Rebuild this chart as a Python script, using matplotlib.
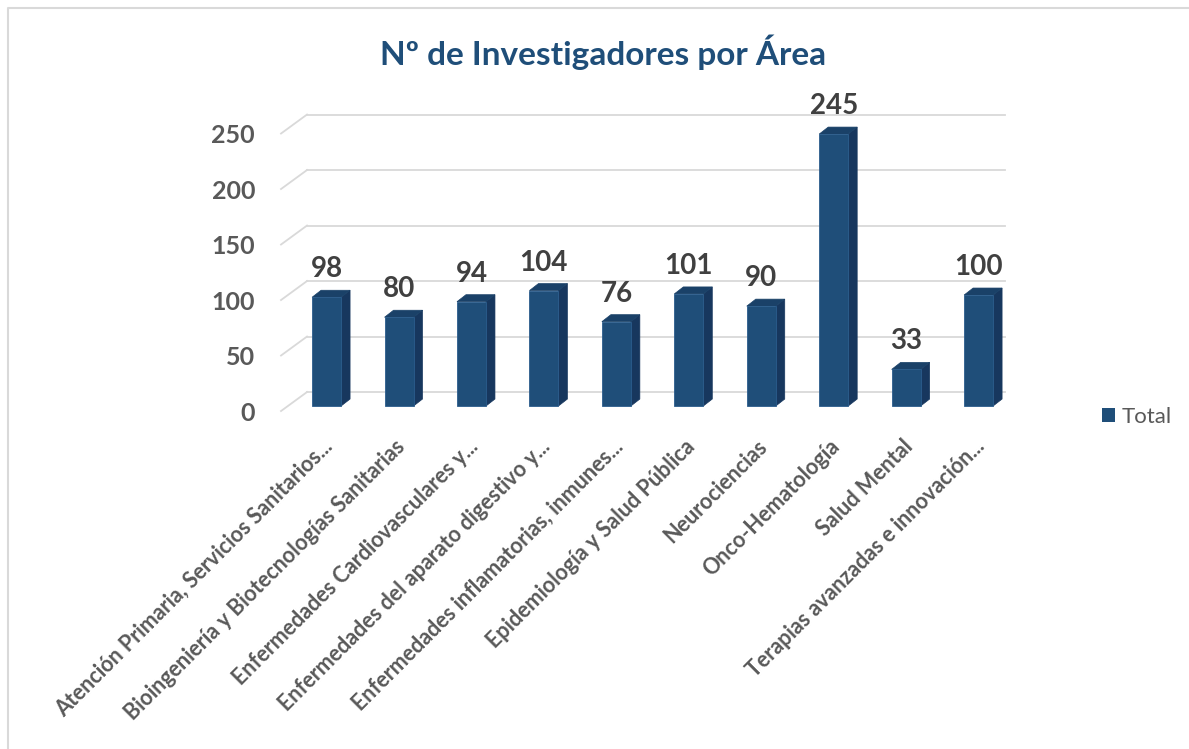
import numpy as np
import matplotlib
matplotlib.use('Agg')
import matplotlib.pyplot as plt
from matplotlib.patches import Polygon, Patch
from matplotlib.lines import Line2D
from matplotlib.transforms import ScaledTranslation, IdentityTransform

# Datos del grafico
areas = [
    "Atención Primaria, Servicios Sanitarios...",
    "Bioingeniería y Biotecnologías Sanitarias",
    "Enfermedades Cardiovasculares y...",
    "Enfermedades del aparato digestivo y...",
    "Enfermedades inflamatorias, inmunes...",
    "Epidemiología y Salud Pública",
    "Neurociencias",
    "Onco-Hematología",
    "Salud Mental",
    "Terapias avanzadas e innovación...",
]
totales = [98, 80, 94, 104, 76, 101, 90, 245, 33, 100]
y_ticks = [0, 50, 100, 150, 200, 250]
serie = "Total"
titulo = "Nº de Investigadores por Área"

plt.rcParams['font.family'] = ['Lato', 'DejaVu Sans']

c_front = '#1f4e79'
c_side = '#17375e'
c_top = '#1a4168'
c_grid = '#d9d9d9'
c_text = '#595959'

fig = plt.figure(figsize=(11.89, 7.49), dpi=100)
ax = fig.add_axes([0.2442, 0.4579, 0.6093, 0.3705])
ax.set_xlim(-0.5, 9.5)
ax.set_ylim(0, 250)
ax.axis('off')

def shift(dx, dy):
    # desplazamiento en pixeles sobre las coordenadas de datos
    return ax.transData + ScaledTranslation(dx / 100, dy / 100, fig.dpi_scale_trans)

t_back = shift(20, 14)
t_front = shift(-6, -5)
depth = shift(9, 7)
base = shift(0, 0)

# Rejilla (pared del fondo y suelo inclinado)
x0, x1 = -0.546, 9.095
for v in y_ticks:
    ax.plot([x0, x1], [v, v], transform=t_back, color=c_grid, lw=1.3,
            clip_on=False, zorder=1)
    p1 = t_front.transform((x0, v))
    p2 = t_back.transform((x0, v))
    ax.add_line(Line2D([p1[0], p2[0]], [p1[1], p2[1]], transform=IdentityTransform(),
                       color=c_grid, lw=1.3, clip_on=False, zorder=1))
    ax.text(x0, v, str(v), transform=shift(-32, -5), ha='right', va='center_baseline',
            fontsize=18, weight='bold', color=c_text)

# Barras 3D
x = np.arange(len(totales))
w = 0.4
ax.bar(x, totales, width=w, color=c_front, edgecolor='#2b5d8d', lw=0.6,
       zorder=3, clip_on=False)
for i, v in zip(x, totales):
    xl, xr = i - w / 2, i + w / 2
    side = [base.transform((xr, 0)), base.transform((xr, v)),
            depth.transform((xr, v)), depth.transform((xr, 0))]
    top = [base.transform((xl, v)), base.transform((xr, v)),
           depth.transform((xr, v)), depth.transform((xl, v))]
    ax.add_patch(Polygon(side, closed=True, transform=IdentityTransform(),
                         facecolor=c_side, edgecolor=c_side, lw=0.5, clip_on=False, zorder=2))
    ax.add_patch(Polygon(top, closed=True, transform=IdentityTransform(),
                         facecolor=c_top, edgecolor=c_top, lw=0.5, clip_on=False, zorder=2))
    ax.text(i, v, str(v), transform=shift(0, 20), ha='center', va='baseline',
            fontsize=20, weight='bold', color='#404040')

# Etiquetas de categorias
for i, lab in zip(x, areas):
    ax.text(i, 0, lab, transform=shift(3, -37), rotation=45, rotation_mode='anchor',
            ha='right', va='center', fontsize=15.5, weight='bold', color=c_text)

fig.text(603 / 1189, 1 - 52 / 749, titulo, ha='center', va='center',
         fontsize=24, weight='bold', color=c_front)

fig.legend(handles=[Patch(facecolor=c_front, label=serie)], loc='center left',
           bbox_to_anchor=(1102 / 1189, 1 - 417 / 749), frameon=False,
           handlelength=0.6, handleheight=0.6, handletextpad=0.3, borderpad=0,
           borderaxespad=0, fontsize=16, labelcolor=c_text)

# Borde del area del grafico
fig.add_artist(Line2D([8 / 1189, 8 / 1189, 1], [0, 1 - 8 / 749, 1 - 8 / 749],
                      transform=fig.transFigure, color=c_grid, lw=1.5))

plt.savefig('out.png', dpi=100)
plt.close('all')
